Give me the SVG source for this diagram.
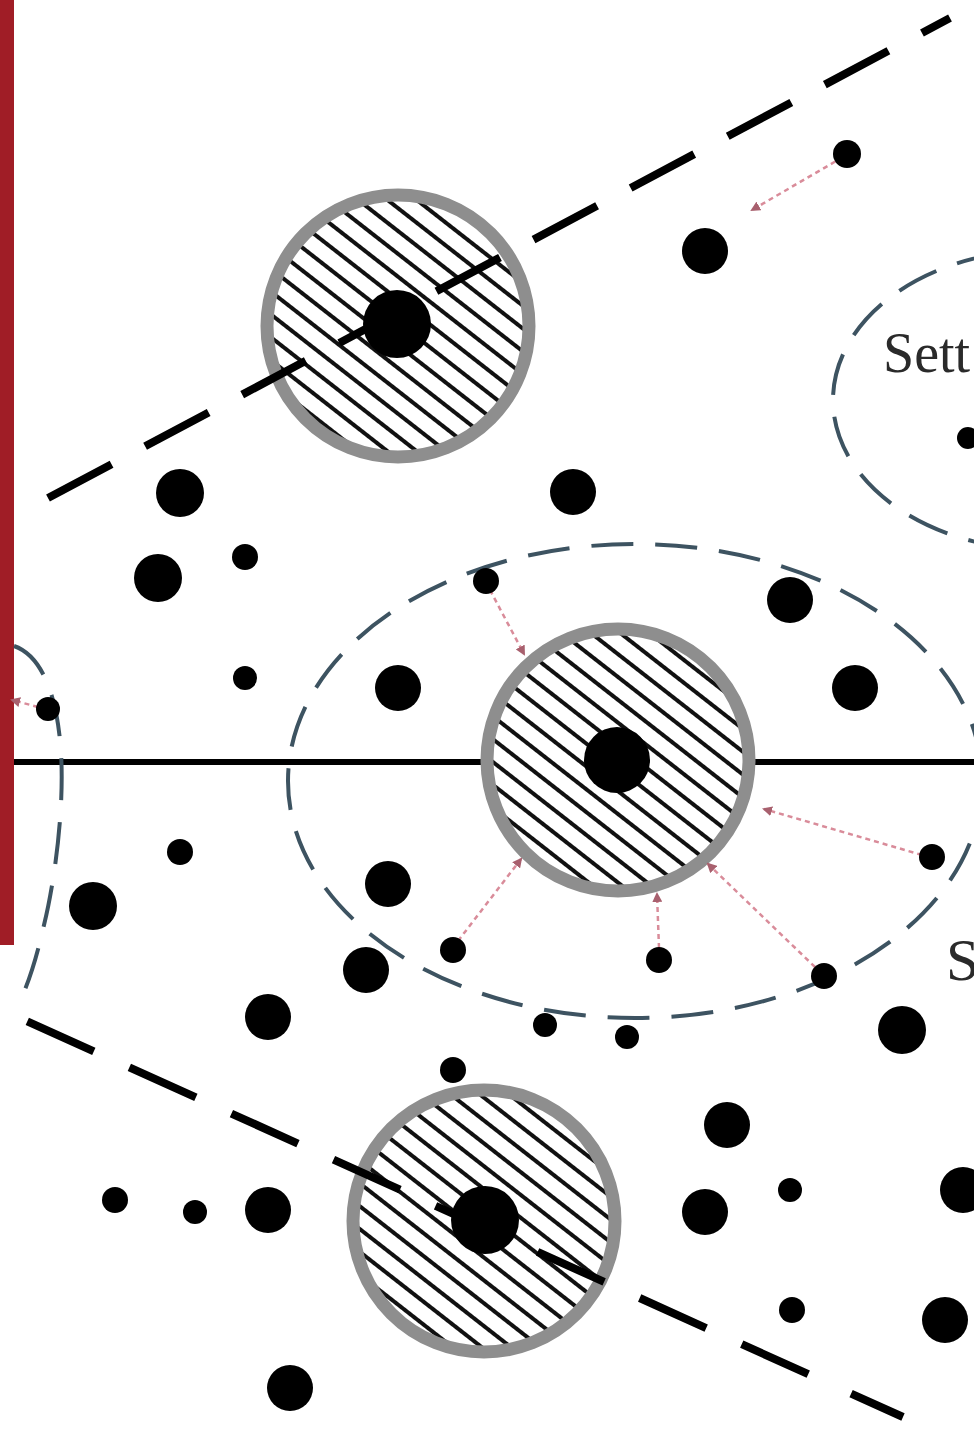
<svg xmlns="http://www.w3.org/2000/svg" width="974" height="1440" viewBox="0 0 974 1440">
<style>
.dot{fill:#000}
.ring{fill:url(#hatch);stroke:#8e8e8e;stroke-width:13}
.bound{fill:none;stroke:#000;stroke-width:8}
.ell{fill:none;stroke:#3d5361;stroke-width:4;stroke-dasharray:42 22}
.arr{fill:none;stroke:#d98c9a;stroke-width:2.5;stroke-dasharray:5 4;marker-end:url(#ah)}
.lbl{font-family:"Liberation Serif","Times New Roman",serif;fill:#2a2a2a}
</style>
<defs>
<pattern id="hatch" patternUnits="userSpaceOnUse" width="18" height="18" patternTransform="rotate(38)">
<rect width="18" height="18" fill="#fff"/>
<line x1="0" y1="9" x2="18" y2="9" stroke="#111" stroke-width="4"/>
</pattern>
<marker id="ah" markerWidth="10" markerHeight="10" refX="8" refY="5" orient="auto" markerUnits="userSpaceOnUse">
<path d="M0,0 L10,5 L0,10 z" fill="#a8606e"/>
</marker>
</defs>
<rect width="974" height="1440" fill="#fff"/>
<rect id="bar" x="0" y="0" width="14" height="945" fill="#a01d26"/>

<g id="axis"><line x1="14" y1="762" x2="974" y2="762" stroke="#000" stroke-width="6"/></g>

<g id="regions">
<ellipse id="ellipse-center" class="ell" cx="635" cy="781" rx="347" ry="237"/>
<ellipse id="ellipse-right" class="ell" cx="1044" cy="400" rx="211" ry="150"/>
<path id="ellipse-left" class="ell" d="M14,646 C40,655 55,690 60,740 C66,800 55,880 44,925 C36,960 28,985 18,1005"/>
</g>

<g id="hub-top"><circle class="ring" cx="398" cy="326" r="131"/><circle class="dot" cx="397" cy="324" r="34"/></g>
<g id="hub-mid"><circle class="ring" cx="618" cy="760" r="131"/><circle class="dot" cx="617" cy="760" r="33"/></g>
<g id="hub-bot"><circle class="ring" cx="484" cy="1221" r="131"/><circle class="dot" cx="485" cy="1220" r="34"/></g>

<g id="connectors">
<line class="bound" x1="48" y1="498" x2="950" y2="18" stroke-dasharray="72 38"/>
<line class="bound" x1="20" y1="1018" x2="903" y2="1417" stroke-dasharray="0 8 73 39 73 39 73 39 73 39 73 39 73 39 73 39 73 39"/>
<line class="arr" x1="843" y1="157" x2="752" y2="210"/>
<line class="arr" x1="490" y1="590" x2="524" y2="654"/>
<line class="arr" x1="922" y1="855" x2="764" y2="809"/>
<line class="arr" x1="458" y1="941" x2="521" y2="859"/>
<line class="arr" x1="659" y1="948" x2="657" y2="894"/>
<line class="arr" x1="815" y1="967" x2="708" y2="864"/>
<line class="arr" x1="38" y1="707" x2="12" y2="700"/>
</g>

<g id="nodes">
<circle class="dot" cx="705" cy="251" r="23"/>
<circle class="dot" cx="180" cy="493" r="24"/>
<circle class="dot" cx="573" cy="492" r="23"/>
<circle class="dot" cx="158" cy="578" r="24"/>
<circle class="dot" cx="790" cy="600" r="23"/>
<circle class="dot" cx="398" cy="688" r="23"/>
<circle class="dot" cx="855" cy="688" r="23"/>
<circle class="dot" cx="93" cy="906" r="24"/>
<circle class="dot" cx="388" cy="884" r="23"/>
<circle class="dot" cx="366" cy="970" r="23"/>
<circle class="dot" cx="268" cy="1017" r="23"/>
<circle class="dot" cx="902" cy="1030" r="24"/>
<circle class="dot" cx="727" cy="1125" r="23"/>
<circle class="dot" cx="268" cy="1210" r="23"/>
<circle class="dot" cx="705" cy="1212" r="23"/>
<circle class="dot" cx="963" cy="1190" r="23"/>
<circle class="dot" cx="945" cy="1320" r="23"/>
<circle class="dot" cx="290" cy="1388" r="23"/>
<circle class="dot" cx="847" cy="154" r="14"/>
<circle class="dot" cx="245" cy="557" r="13"/>
<circle class="dot" cx="486" cy="581" r="13"/>
<circle class="dot" cx="245" cy="678" r="12"/>
<circle class="dot" cx="48" cy="709" r="12"/>
<circle class="dot" cx="180" cy="852" r="13"/>
<circle class="dot" cx="932" cy="857" r="13"/>
<circle class="dot" cx="453" cy="950" r="13"/>
<circle class="dot" cx="659" cy="960" r="13"/>
<circle class="dot" cx="824" cy="976" r="13"/>
<circle class="dot" cx="545" cy="1025" r="12"/>
<circle class="dot" cx="627" cy="1037" r="12"/>
<circle class="dot" cx="453" cy="1070" r="13"/>
<circle class="dot" cx="115" cy="1200" r="13"/>
<circle class="dot" cx="195" cy="1212" r="12"/>
<circle class="dot" cx="790" cy="1190" r="12"/>
<circle class="dot" cx="792" cy="1310" r="13"/>
<circle class="dot" cx="968" cy="438" r="11"/>
</g>

<g id="labels">
<text class="lbl" x="883" y="372" font-size="56">Sett</text>
<text class="lbl" x="946" y="980" font-size="60">S</text>
</g>
</svg>
